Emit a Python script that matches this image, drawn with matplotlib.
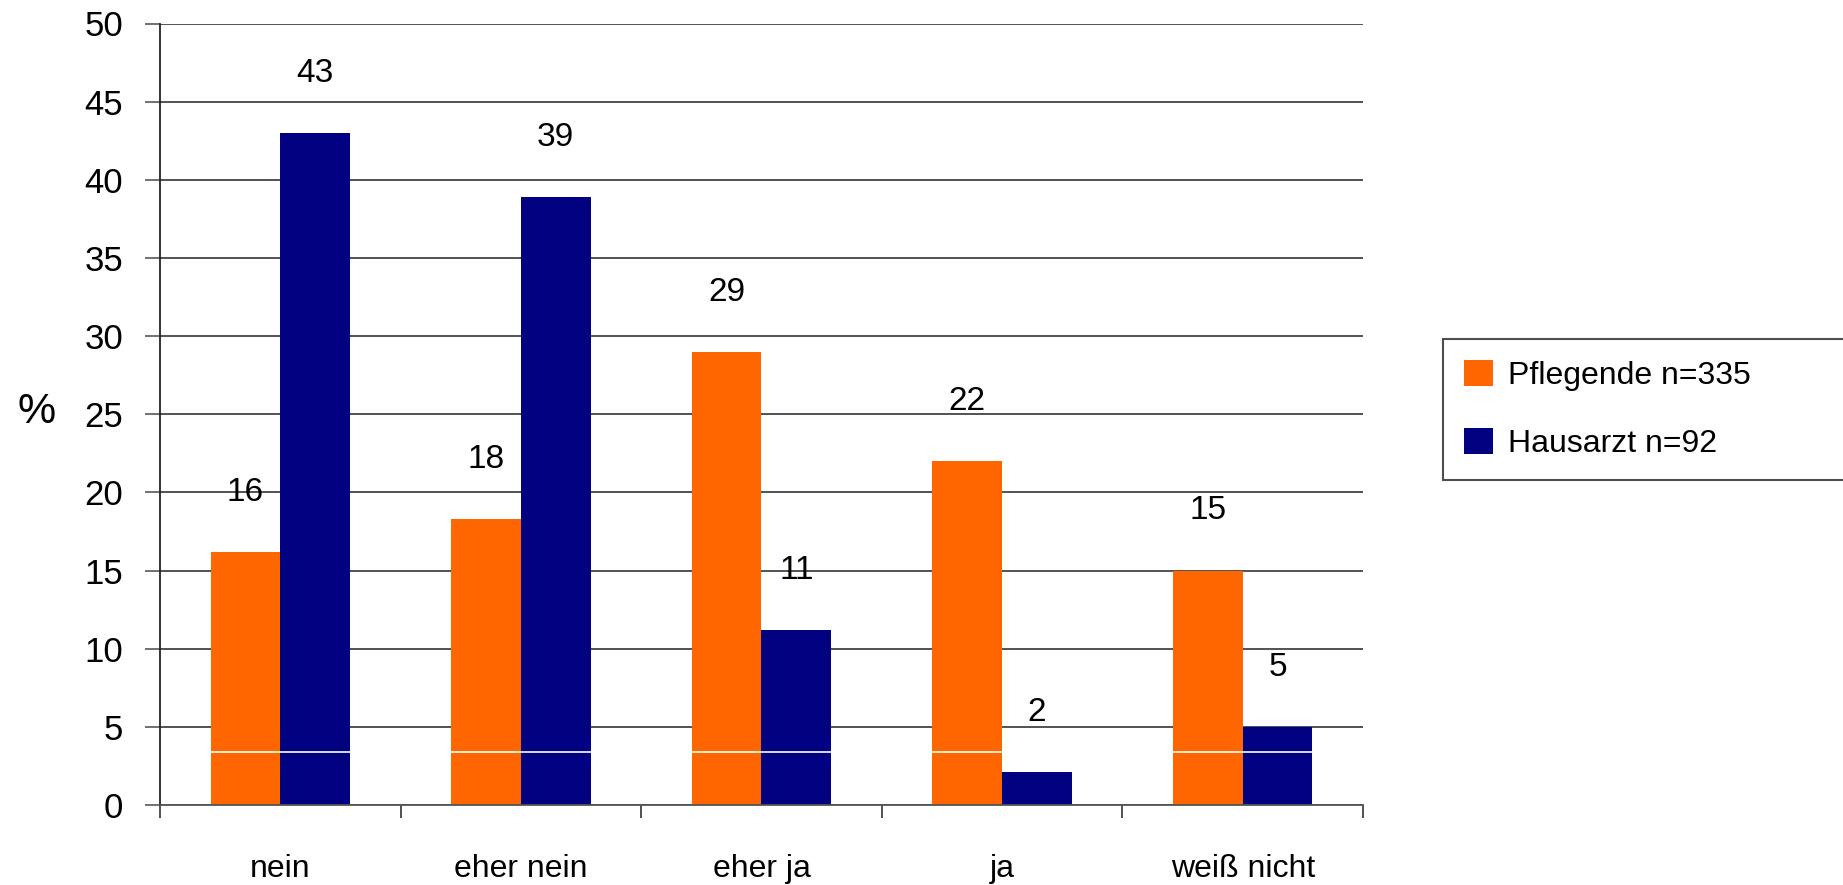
import numpy as np
import matplotlib
matplotlib.use("Agg")
import matplotlib.pyplot as plt

plt.rcParams['font.family'] = ['Liberation Sans', 'DejaVu Sans']

# data
categories = ['nein', 'eher nein', 'eher ja', 'ja', 'weiß nicht']
pflegende = [16.2, 18.3, 29.0, 22.0, 15.0]
hausarzt = [43.0, 38.9, 11.2, 2.1, 5.0]
pflegende_labels = ['16', '18', '29', '22', '15']
hausarzt_labels = ['43', '39', '11', '2', '5']
series_names = ['Pflegende n=335', 'Hausarzt n=92']
y_ticks = [0, 5, 10, 15, 20, 25, 30, 35, 40, 45, 50]

ORANGE = '#FF6600'
NAVY = '#000080'
GRID = '#444444'

fig = plt.figure(figsize=(18.43, 8.85), dpi=100)
ax = fig.add_axes([160 / 1843, 1 - 805 / 885, (1363 - 160) / 1843, (805 - 23.5) / 885])

x = np.arange(len(categories))
w = 0.29
b1 = ax.bar(x - w, pflegende, width=w, align='edge', color=ORANGE, zorder=2, label=series_names[0])
b2 = ax.bar(x, hausarzt, width=w, align='edge', color=NAVY, zorder=2, label=series_names[1])

# value labels above the bars
for xi, v, t in zip(x - w / 2, pflegende, pflegende_labels):
    ax.annotate(t, (xi, v), xytext=(0, 43), textcoords='offset points',
                ha='center', va='center', fontsize=24)
for xi, v, t in zip(x + w / 2, hausarzt, hausarzt_labels):
    ax.annotate(t, (xi, v), xytext=(0, 43), textcoords='offset points',
                ha='center', va='center', fontsize=24)

# thin white seam across the bars, as in the original export
ax.axhline(3.4, xmin=0.005, color='white', lw=1.2, zorder=3)

ax.set_xlim(-0.5, len(categories) - 0.5)
ax.set_ylim(0, 50)
ax.set_yticks(y_ticks)
ax.yaxis.grid(True, color=GRID, lw=1.3, zorder=0)
ax.set_axisbelow(True)

# boundaries as major ticks, category names as minor tick labels
ax.set_xticks(np.arange(-0.5, len(categories), 1.0))
ax.set_xticklabels([])
ax.set_xticks(x, minor=True)
ax.set_xticklabels(categories, minor=True, fontsize=23)
ax.tick_params(axis='x', which='major', length=9, width=1.2, color='#333333', direction='out')
ax.tick_params(axis='x', which='minor', length=0, pad=35)
ax.tick_params(axis='y', length=10.5, width=1.3, color='#666666', pad=16, labelsize=25)

for s in ['top', 'right']:
    ax.spines[s].set_visible(False)
ax.spines['left'].set_color('#222222')
ax.spines['left'].set_linewidth(1.3)
ax.spines['bottom'].set_color('#555555')
ax.spines['bottom'].set_linewidth(1.3)

fig.text(37 / 1843, 1 - 412 / 885, '%', fontsize=31, ha='center', va='center')

leg = fig.legend(handles=[b1, b2], loc='upper left', mode='expand',
                 bbox_to_anchor=(1443 / 1843, 1 - 481 / 885, 0.3, (481 - 339) / 885),
                 bbox_transform=fig.transFigure, borderaxespad=0,
                 fontsize=23, frameon=True, fancybox=False,
                 handlelength=0.9, handleheight=0.9, handletextpad=0.5,
                 borderpad=0.65, labelspacing=1.15)
leg.get_frame().set_edgecolor('#222222')
leg.get_frame().set_linewidth(1.5)

fig.savefig('out.png', dpi=100)
